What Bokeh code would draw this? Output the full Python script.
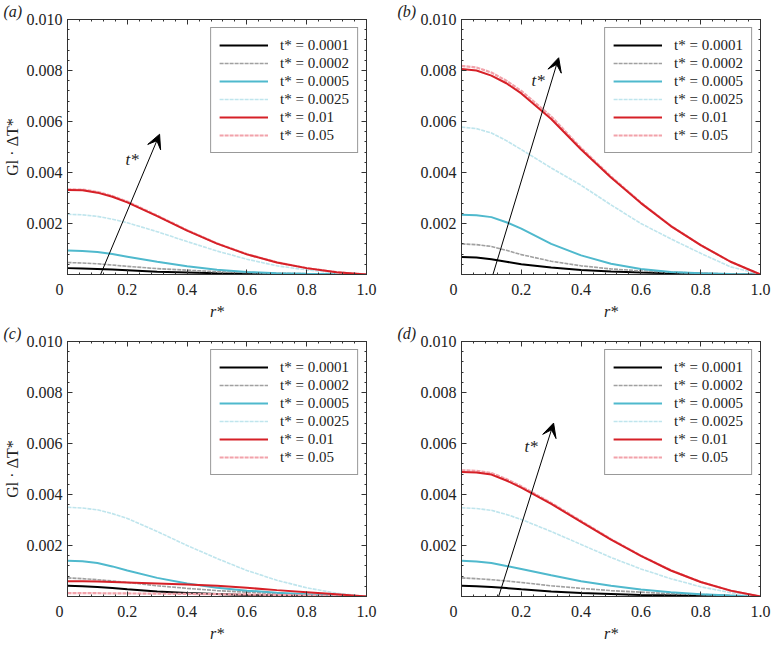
from bokeh.plotting import figure
from bokeh.models import (LinearAxis, FixedTicker, NumeralTickFormatter, Legend, LegendItem,
                          Arrow, VeeHead, Label, Range1d, Title, CustomJSTickFormatter)
from bokeh.layouts import column, row
from bokeh.embed import file_html
from bokeh.resources import INLINE

FONT = "Liberation Serif"

# radial coordinate r*
r = [0, 0.05, 0.1, 0.15, 0.2, 0.3, 0.4, 0.5, 0.6, 0.7, 0.8, 0.9, 1.0]

labels = ["t* = 0.0001", "t* = 0.0002", "t* = 0.0005", "t* = 0.0025", "t* = 0.01", "t* = 0.05"]

# panel (a)
a_0001 = [0.00025, 0.00024, 0.00022, 0.0002, 0.00017, 0.00011, 0.00008, 0.00005, 0.00003, 0.00002, 0.00001, 0.000005, 0]
a_0002 = [0.00047, 0.00045, 0.00042, 0.00037, 0.00032, 0.00023, 0.00017, 0.00011, 0.00008, 0.00005, 0.00003, 0.00001, 0]
a_0005 = [0.00094, 0.00092, 0.00088, 0.0008, 0.0007, 0.0005, 0.00032, 0.00019, 0.0001, 0.00005, 0.000025, 0.00001, 0]
a_0025 = [0.00236, 0.00234, 0.00228, 0.00217, 0.00203, 0.00168, 0.00129, 0.00092, 0.0006, 0.00034, 0.00018, 0.00006, 0]
a_01 = [0.00331, 0.0033, 0.00321, 0.00305, 0.00283, 0.00229, 0.00172, 0.00121, 0.00079, 0.00047, 0.00025, 0.00009, 0]
a_05 = [0.00334, 0.00333, 0.00324, 0.00308, 0.00286, 0.00231, 0.00174, 0.00122, 0.0008, 0.00048, 0.00025, 0.00009, 0]

# panel (b)
b_0001 = [0.00069, 0.00067, 0.0006, 0.0005, 0.0004, 0.00027, 0.00018, 0.00012, 0.00008, 0.00005, 0.00003, 0.00001, 0]
b_0002 = [0.0012, 0.00117, 0.0011, 0.00095, 0.00078, 0.00052, 0.00034, 0.00022, 0.00014, 0.00009, 0.00005, 0.00002, 0]
b_0005 = [0.00234, 0.00232, 0.00225, 0.00205, 0.0018, 0.0012, 0.00075, 0.00042, 0.00022, 0.0001, 0.00005, 0.00002, 0]
b_0025 = [0.00578, 0.00572, 0.00555, 0.00525, 0.0049, 0.00418, 0.0035, 0.00273, 0.002, 0.0014, 0.00083, 0.0003, 0]
b_01 = [0.00806, 0.008, 0.0078, 0.0075, 0.0071, 0.0061, 0.0049, 0.0038, 0.0028, 0.0019, 0.00115, 0.0005, 0]
b_05 = [0.00818, 0.00812, 0.00792, 0.0076, 0.0072, 0.0062, 0.00496, 0.00384, 0.00282, 0.00191, 0.00115, 0.0005, 0]

# panel (c)
c_0001 = [0.00042, 0.0004, 0.00037, 0.00033, 0.00028, 0.0002, 0.00014, 0.0001, 0.00006, 0.00005, 0.00004, 0.00002, 0]
c_0002 = [0.00073, 0.0007, 0.00066, 0.00061, 0.00055, 0.00042, 0.00032, 0.00023, 0.00017, 0.00011, 0.00008, 0.00004, 0]
c_0005 = [0.0014, 0.00138, 0.00131, 0.00118, 0.00102, 0.00073, 0.00051, 0.00034, 0.00023, 0.00015, 0.00009, 0.00004, 0]
c_0025 = [0.0035, 0.00347, 0.0034, 0.00325, 0.00306, 0.00255, 0.002, 0.00149, 0.00102, 0.00064, 0.00034, 0.00013, 0]
c_01 = [0.0006, 0.0006, 0.00059, 0.00057, 0.00055, 0.00051, 0.00047, 0.00042, 0.00034, 0.00025, 0.00017, 0.00009, 0]
c_05 = [0.00013, 0.00013, 0.00013, 0.00012, 0.00012, 0.00011, 0.0001, 0.00009, 0.00008, 0.00006, 0.00004, 0.00002, 0]

# panel (d)
d_0001 = [0.00042, 0.0004, 0.00037, 0.00033, 0.00028, 0.0002, 0.00014, 0.0001, 0.00006, 0.00005, 0.00004, 0.00002, 0]
d_0002 = [0.00073, 0.0007, 0.00066, 0.00061, 0.00055, 0.00042, 0.00032, 0.00023, 0.00017, 0.00011, 0.00008, 0.00004, 0]
d_0005 = [0.0014, 0.00137, 0.00131, 0.0012, 0.00108, 0.00083, 0.0006, 0.00042, 0.00027, 0.00017, 0.00009, 0.00004, 0]
d_0025 = [0.00348, 0.00345, 0.00338, 0.00322, 0.00302, 0.00255, 0.00204, 0.00153, 0.00108, 0.0007, 0.00038, 0.00015, 0]
d_01 = [0.00488, 0.00486, 0.00478, 0.00455, 0.00427, 0.00363, 0.00293, 0.00223, 0.00159, 0.00102, 0.00057, 0.00023, 0]
d_05 = [0.00495, 0.00493, 0.00484, 0.00461, 0.00432, 0.00367, 0.00296, 0.00225, 0.0016, 0.00103, 0.00057, 0.00023, 0]

# arrows: (x_start, y_start, x_end, y_end) and t* label position
arrow_a = (0.089, -0.0006, 0.308, 0.0055)
arrow_b = (0.10, -0.0002, 0.325, 0.0085)
arrow_d = (0.108, -0.0006, 0.308, 0.0068)
tlab_a = (0.216, 0.0045)
tlab_b = (0.256, 0.0076)
tlab_d = (0.233, 0.0059)

x_ticks = [0, 0.2, 0.4, 0.6, 0.8, 1]
x_minor = [i * 0.04 for i in range(26)]
y_ticks = [0.002, 0.004, 0.006, 0.008, 0.010]
y_minor = [i * 0.0004 for i in range(26)]

styles = [
    dict(color="#000000", width=2.0, dash="solid"),
    dict(color="#a0a0a0", width=1.6, dash="4 1"),
    dict(color="#4fb9cd", width=2.0, dash="solid"),
    dict(color="#bfe5ed", width=1.6, dash="4 1"),
    dict(color="#d62027", width=2.0, dash="solid"),
    dict(color="#f2a2aa", width=2.2, dash="4 1"),
]

AX = "#333333"
TXT = "#222222"


def style_axis(ax, show_labels=True):
    ax.axis_line_color = AX
    ax.major_tick_line_color = AX
    ax.minor_tick_line_color = AX
    ax.major_tick_in = 5
    ax.major_tick_out = 0
    ax.minor_tick_in = 2
    ax.minor_tick_out = 0
    ax.major_label_text_font = FONT
    ax.major_label_text_color = TXT
    ax.major_label_text_font_size = "16px"
    ax.axis_label_text_font = FONT
    ax.axis_label_text_font_size = "16px"
    ax.axis_label_text_color = TXT
    if not show_labels:
        ax.formatter = CustomJSTickFormatter(code="return ''")
        ax.major_label_standoff = 0


def make_panel(tag, series, ylabel, arrow, tlab, right, bottom):
    p = figure(frame_width=299, frame_height=255, x_range=Range1d(0, 1), y_range=Range1d(0, 0.01),
               output_backend="svg", toolbar_location=None, x_axis_type=None, y_axis_type=None,
               min_border_left=64, min_border_right=right, min_border_top=0, min_border_bottom=bottom)
    p.xgrid.visible = False
    p.ygrid.visible = False
    p.outline_line_color = AX
    p.background_fill_color = "white"
    p.border_fill_color = "white"

    xt = FixedTicker(ticks=x_ticks, minor_ticks=x_minor)
    yt = FixedTicker(ticks=y_ticks, minor_ticks=y_minor)

    xb = LinearAxis(ticker=xt, axis_label="r*")
    style_axis(xb)
    xb.axis_label_text_font_style = "italic"
    xb.major_label_standoff = 6
    xb.axis_label_standoff = 2
    xb.major_label_overrides = {0: "0\u00a0\u00a0\u00a0\u00a0", 1: "1.0"}
    p.add_layout(xb, "below")

    yl = LinearAxis(ticker=yt, formatter=NumeralTickFormatter(format="0.000"))
    style_axis(yl)
    yl.major_label_standoff = 5
    if ylabel:
        yl.axis_label = "Gl \u00b7 \u0394T*"
        yl.axis_label_text_font_style = "normal"
        yl.axis_label_standoff = 3
    p.add_layout(yl, "left")

    xa = LinearAxis(ticker=xt)
    style_axis(xa, show_labels=False)
    p.add_layout(xa, "above")
    yr = LinearAxis(ticker=yt)
    style_axis(yr, show_labels=False)
    p.add_layout(yr, "right")

    p.add_layout(Title(text=tag, align="left", offset=-64, text_font=FONT, text_font_style="italic",
                       text_font_size="16px", text_color=TXT, standoff=0), "above")

    rends = [None] * len(series)
    # draw pink (0.05) beneath red (0.01)
    order = [0, 1, 2, 3, 5, 4]
    for i in order:
        st = styles[i]
        rends[i] = p.line(r, series[i], line_color=st["color"], line_width=st["width"],
                          line_dash=st["dash"])

    legend = Legend(items=[LegendItem(label=lab, renderers=[rr]) for lab, rr in zip(labels, rends)],
                    location="top_right")
    legend.label_text_font = FONT
    legend.label_text_font_size = "15px"
    legend.label_text_color = TXT
    legend.border_line_color = AX
    legend.border_line_width = 1
    legend.background_fill_alpha = 1.0
    legend.padding = 8
    legend.spacing = 0
    legend.margin = 8
    legend.glyph_width = 49
    legend.glyph_height = 18
    legend.label_height = 18
    legend.label_standoff = 12
    p.add_layout(legend, "center")

    if arrow is not None:
        x0, y0, x1, y1 = arrow
        p.add_layout(Arrow(end=VeeHead(size=14, fill_color="black", line_color="black"),
                           x_start=x0, y_start=y0, x_end=x1, y_end=y1,
                           line_color="black", line_width=1))
        p.add_layout(Label(x=tlab[0], y=tlab[1], text="t*", text_font=FONT,
                           text_font_style="italic", text_font_size="17px", text_color=TXT,
                           text_align="center", text_baseline="middle"))
    return p


pa = make_panel("(a)", [a_0001, a_0002, a_0005, a_0025, a_01, a_05], True, arrow_a, tlab_a, 31, 48)
pb = make_panel("(b)", [b_0001, b_0002, b_0005, b_0025, b_01, b_05], False, arrow_b, tlab_b, 11, 48)
pc = make_panel("(c)", [c_0001, c_0002, c_0005, c_0025, c_01, c_05], True, None, None, 31, 46)
pd = make_panel("(d)", [d_0001, d_0002, d_0005, d_0025, d_01, d_05], False, arrow_d, tlab_d, 11, 46)

layout = column(row(pa, pb), row(pc, pd))
open("out.html", "w").write(file_html(layout, INLINE))
